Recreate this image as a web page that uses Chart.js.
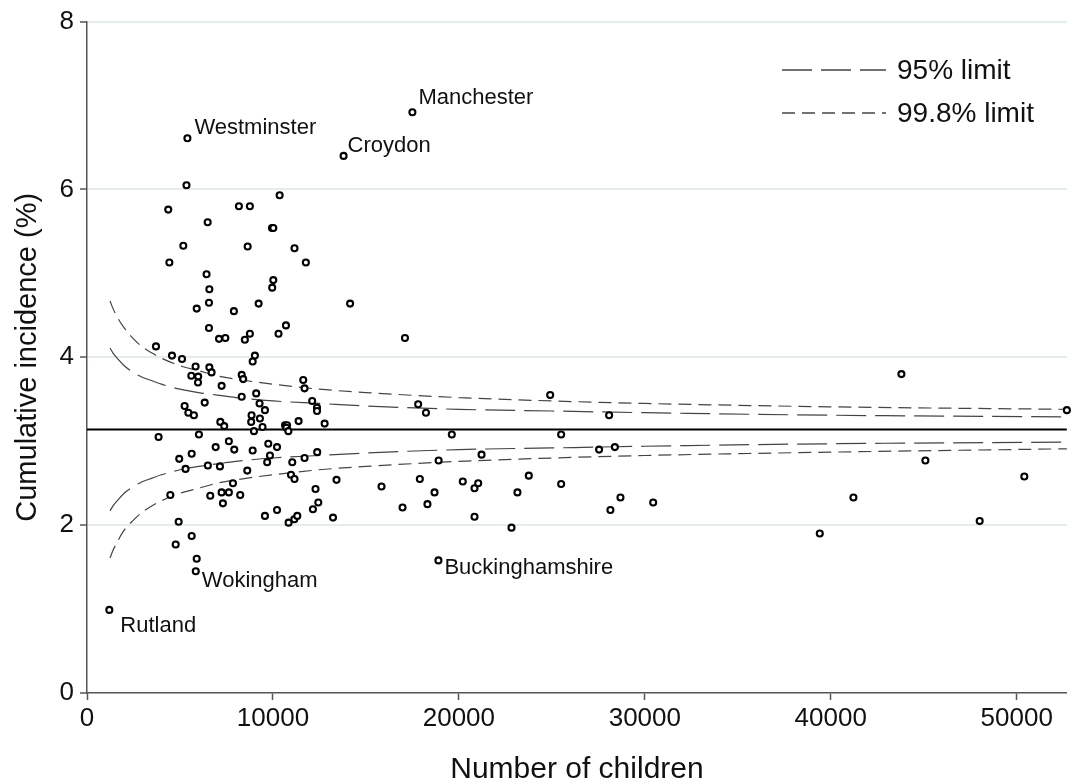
<!DOCTYPE html>
<html>
<head>
<meta charset="utf-8">
<script src="https://cdn.jsdelivr.net/npm/chart.js@4/dist/chart.umd.min.js"></script>
<style>
  html, body { margin: 0; padding: 0; background: #fff; }
  #wrap { width: 1073px; height: 784px; position: relative; }
</style>
</head>
<body>
<div id="wrap"><canvas id="funnel"></canvas></div>
<script>
// local authorities: number of children vs cumulative incidence (%)
var children = [
  5350, 4370, 8170, 8760, 10360, 6490, 9950, 10020, 5180, 8640, 11160, 4430, 11770,
  6430, 10020, 9960, 6580, 6560, 5900, 7900, 9230, 14150, 6560, 7100, 7440, 8490,
  8760, 10300, 10700, 17100, 3710, 4570, 5110, 9030, 8910, 5840, 6580, 6700, 5610,
  5980, 5970, 8320, 8400, 7240, 11630, 11700, 8320, 9100, 9280, 9570, 6330, 5250,
  5450, 5750, 12110, 12370, 12370, 8850, 8830, 9300, 9440, 7170, 7380, 11380, 12780,
  8980, 10650, 10760, 10720, 10830, 3850, 6020, 6920, 7630, 7920, 8910, 9750, 10220,
  12380, 4960, 5630, 5300, 6500, 7150, 8620, 9840, 9690, 11040, 11700, 10970, 11160,
  13420, 7850, 4480, 6630, 7240, 7630, 8240, 7310, 12290, 12440, 12150, 10220, 9570,
  10840, 11150, 11310, 13230, 4930, 5630, 4770, 5900, 17810, 18230, 24910, 28080,
  19620, 25500, 27540, 28390, 21220, 18910, 15840, 16970, 17900, 18310, 18690, 20210,
  20840, 21040, 20840, 22830, 23150, 23760, 25500, 28150, 28690, 30450, 43800, 52700,
  45090, 50410, 41220, 39410, 48010
];
var incidence = [
  6.05, 5.76, 5.80, 5.80, 5.93, 5.61, 5.54, 5.54, 5.33, 5.32, 5.30, 5.13, 5.13,
  4.99, 4.92, 4.83, 4.81, 4.65, 4.58, 4.55, 4.64, 4.64, 4.35, 4.22, 4.23, 4.21,
  4.28, 4.28, 4.38, 4.23, 4.13, 4.02, 3.98, 4.02, 3.95, 3.89, 3.88, 3.82, 3.78,
  3.77, 3.70, 3.79, 3.74, 3.66, 3.73, 3.63, 3.53, 3.57, 3.45, 3.37, 3.46, 3.42,
  3.34, 3.31, 3.48, 3.40, 3.36, 3.31, 3.23, 3.27, 3.17, 3.23, 3.18, 3.24, 3.21,
  3.12, 3.19, 3.19, 3.16, 3.12, 3.05, 3.08, 2.93, 3.00, 2.90, 2.89, 2.97, 2.93,
  2.87, 2.79, 2.85, 2.67, 2.71, 2.70, 2.65, 2.83, 2.75, 2.75, 2.80, 2.60, 2.55,
  2.54, 2.50, 2.36, 2.35, 2.39, 2.39, 2.36, 2.26, 2.43, 2.27, 2.19, 2.18, 2.11,
  2.03, 2.07, 2.11, 2.09, 2.04, 1.87, 1.77, 1.60, 3.44, 3.34, 3.55, 3.31,
  3.08, 3.08, 2.90, 2.93, 2.84, 2.77, 2.46, 2.21, 2.55, 2.25, 2.39, 2.52,
  2.44, 2.50, 2.10, 1.97, 2.39, 2.59, 2.49, 2.18, 2.33, 2.27, 3.80, 3.37,
  2.77, 2.58, 2.33, 1.90, 2.05
];

// named outliers
var labelNames = ['Westminster', 'Manchester', 'Croydon', 'Buckinghamshire', 'Wokingham', 'Rutland'];
var labelChildren = [5400, 17500, 13800, 18900, 5850, 1200];
var labelIncidence = [6.61, 6.92, 6.40, 1.58, 1.45, 0.99];

var overallRate = 3.14;

// control limits along the number of children
var limitN = [1240, 1400, 1700, 2000, 2500, 3000, 3500, 4000, 5000, 6000, 7000, 8000,
  10000, 12500, 15000, 20000, 25000, 30000, 40000, 52700];
var upper95 = [4.11, 4.05, 3.97, 3.90, 3.82, 3.76, 3.72, 3.68, 3.62, 3.58, 3.55, 3.52,
  3.48, 3.45, 3.42, 3.38, 3.36, 3.34, 3.31, 3.29];
var lower95 = [2.17, 2.23, 2.31, 2.38, 2.46, 2.52, 2.56, 2.60, 2.66, 2.70, 2.73, 2.76,
  2.80, 2.83, 2.86, 2.90, 2.92, 2.94, 2.97, 2.99];
var upper998 = [4.67, 4.58, 4.45, 4.35, 4.22, 4.12, 4.05, 3.99, 3.90, 3.84, 3.78, 3.74,
  3.68, 3.62, 3.58, 3.52, 3.48, 3.45, 3.41, 3.38];
var lower998 = [1.61, 1.70, 1.83, 1.94, 2.06, 2.16, 2.23, 2.29, 2.38, 2.44, 2.50, 2.54,
  2.60, 2.66, 2.70, 2.76, 2.80, 2.83, 2.87, 2.91];

var xTicks = [0, 10000, 20000, 30000, 40000, 50000];
var yTicks = [0, 2, 4, 6, 8];
var xMax = 52700;

var FONT = '"Liberation Sans", Arial, sans-serif';
var DASH95 = [30, 9];
var DASH998 = [13, 7];

function pts(xs, ys) {
  return xs.map(function (x, i) { return { x: x, y: ys[i] }; });
}

function limitLine(ys, dash) {
  return {
    data: pts(limitN, ys), showLine: true, pointRadius: 0, borderColor: '#444',
    borderWidth: 1.2, borderDash: dash, cubicInterpolationMode: 'monotone', fill: false
  };
}

// place names next to their points
var labelOffsets = {
  Westminster: [7, -10], Manchester: [6, -14], Croydon: [4, -10],
  Buckinghamshire: [6, 8], Wokingham: [6, 10], Rutland: [11, 16]
};

var annotate = {
  id: 'annotate',
  afterDatasetsDraw: function (chart) {
    var ctx = chart.ctx, xs = chart.scales.x, ys = chart.scales.y;
    ctx.save();
    ctx.fillStyle = '#111';
    ctx.textBaseline = 'middle';
    ctx.textAlign = 'left';
    ctx.font = '22px ' + FONT;
    labelNames.forEach(function (name, i) {
      var off = labelOffsets[name];
      ctx.fillText(name, xs.getPixelForValue(labelChildren[i]) + off[0],
        ys.getPixelForValue(labelIncidence[i]) + off[1]);
    });

    // legend
    var items = [['95% limit', DASH95, 70], ['99.8% limit', DASH998, 113]];
    ctx.font = '28px ' + FONT;
    items.forEach(function (it) {
      ctx.strokeStyle = '#444';
      ctx.lineWidth = 1.3;
      ctx.setLineDash(it[1]);
      ctx.beginPath();
      ctx.moveTo(782, it[2]);
      ctx.lineTo(886, it[2]);
      ctx.stroke();
      ctx.setLineDash([]);
      ctx.fillText(it[0], 897, it[2] + 1);
    });
    ctx.restore();
  }
};

new Chart(document.getElementById('funnel'), {
  type: 'scatter',
  data: {
    datasets: [
      {
        data: pts(children, incidence).concat(pts(labelChildren, labelIncidence)),
        pointRadius: 3, pointBorderWidth: 2.1, pointBorderColor: '#000',
        pointBackgroundColor: '#fff', clip: false
      },
      limitLine(upper95, DASH95),
      limitLine(lower95, DASH95),
      limitLine(upper998, DASH998),
      limitLine(lower998, DASH998),
      {
        data: [{ x: 0, y: overallRate }, { x: xMax, y: overallRate }],
        showLine: true, pointRadius: 0, borderColor: '#000', borderWidth: 2.2
      }
    ]
  },
  options: {
    responsive: true,
    maintainAspectRatio: false,
    animation: false,
    layout: { padding: { top: 18, right: 5, left: 0, bottom: 0 } },
    plugins: { legend: { display: false }, tooltip: { enabled: false } },
    scales: {
      x: {
        type: 'linear', min: 0, max: xMax,
        afterFit: function (s) { s.height = 91; },
        afterBuildTicks: function (s) { s.ticks = xTicks.map(function (v) { return { value: v }; }); },
        border: { color: '#555', width: 1.5 },
        grid: { drawOnChartArea: false, drawTicks: true, tickLength: 7, tickColor: '#555', tickWidth: 1.5 },
        ticks: { color: '#111', font: { family: FONT, size: 26 }, padding: 3, maxRotation: 0,
          callback: function (v) { return String(v); } },
        title: { display: true, text: 'Number of children', color: '#111',
          font: { family: FONT, size: 30, lineHeight: 1 }, padding: { top: 0, bottom: -1 } }
      },
      y: {
        min: 0, max: 8,
        afterFit: function (s) { s.width = 87; },
        afterBuildTicks: function (s) { s.ticks = yTicks.map(function (v) { return { value: v }; }); },
        border: { color: '#555', width: 1.5 },
        grid: {
          color: function (c) { return c.tick && c.tick.value === 0 ? 'rgba(0,0,0,0)' : '#e3edf0'; },
          lineWidth: 2, tickLength: 7, tickColor: '#555', tickWidth: 1.5
        },
        ticks: { color: '#111', font: { family: FONT, size: 26 }, padding: 6,
          callback: function (v) { return String(v); } },
        title: { display: true, text: 'Cumulative incidence (%)', color: '#111',
          font: { family: FONT, size: 29, lineHeight: 1.2 }, padding: { top: 11, bottom: 0 } }
      }
    }
  },
  plugins: [annotate]
});
</script>
</body>
</html>
